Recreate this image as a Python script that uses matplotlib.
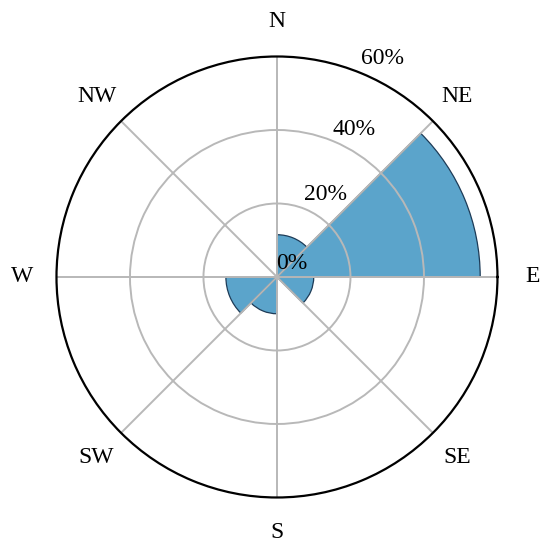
import numpy as np
import matplotlib
matplotlib.use('Agg')
import matplotlib.pyplot as plt

# Wind rose: share of observations per direction sector (percent)
sector_start_deg = [0, 45, 180, 225, 315]
sector_share = [55.3, 11.5, 13.9, 10.0, 10.0]
direction_labels = ['E', 'NE', 'N', 'NW', 'W', 'SW', 'S', 'SE']
radial_ticks = [20, 40]
radial_labels = ['0%', '20%', '40%', '60%']

plt.rcParams['font.family'] = ['Liberation Serif', 'DejaVu Serif']
plt.rcParams['font.size'] = 17

fig = plt.figure(figsize=(5.5, 5.51), dpi=100)
ax = fig.add_axes([0.1027, 0.0971, 0.8018, 0.8004], projection='polar')

theta = np.deg2rad(sector_start_deg)
ax.bar(theta, sector_share, width=np.deg2rad(45), align='edge',
       color='#5ba4cb', edgecolor='#1d3b57', linewidth=0.9, zorder=1)

ax.set_ylim(0, 60)
ax.set_yticks(radial_ticks)
ax.set_yticklabels([])
ax.set_thetagrids(np.arange(0, 360, 45), direction_labels)
ax.tick_params(axis='x', pad=14.5)
ax.grid(True, color='#b8b8b8', linewidth=1.4)
ax.set_axisbelow(False)
for line in ax.get_xgridlines() + ax.get_ygridlines():
    line.set_zorder(2)
ax.spines['polar'].set_linewidth(1.6)
ax.spines['polar'].set_color('black')
ax.spines['polar'].set_zorder(3)

# Radial labels, placed by hand like the original
label_pos = [(41, 5.4), (59.4, 26.2), (62.4, 45.4), (64.2, 66.0)]
for (ang, r), txt in zip(label_pos, radial_labels):
    ax.text(np.deg2rad(ang), r, txt, ha='center', va='center', zorder=5)

fig.savefig('out.png', dpi=100)
